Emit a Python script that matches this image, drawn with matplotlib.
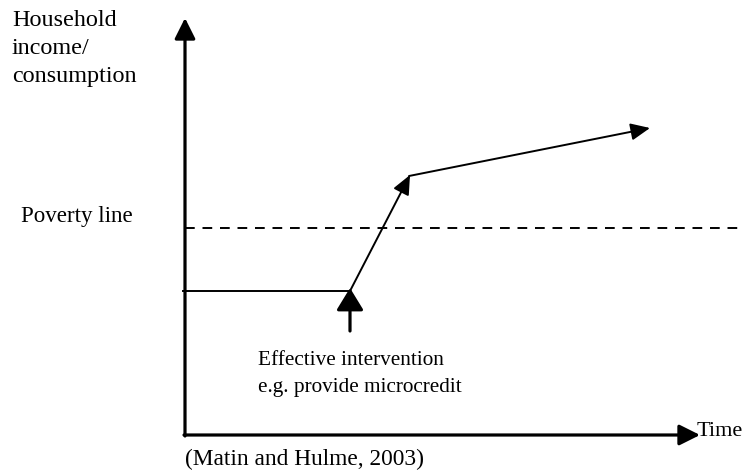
import numpy as np
import matplotlib
matplotlib.use("Agg")
from matplotlib import pyplot as plt

# household income path (x = time, y = income), origin at the axes corner
time_pts = [-2, 165, 225, 465]
income_pts = [144, 144, 260, 307]
poverty_line = 207
intervention_time = 165
x_axis_len = 515
y_axis_len = 417

y_label_lines = ["Household", "income/", "consumption"]
note_lines = ["Effective intervention", "e.g. provide microcredit"]

plt.rcParams["font.family"] = ["Liberation Serif", "DejaVu Serif"]

fig = plt.figure(figsize=(7.48, 4.74), dpi=100)
ax = fig.add_axes([0, 0, 1, 1])
# map data so that origin sits at pixel (185, 435)
ax.set_xlim(-185, 748 - 185)
ax.set_ylim(435 - 474, 435)
ax.axis("off")

axis_kw = dict(arrowstyle="-|>,head_length=0.9,head_width=0.45", color="black",
               lw=2.3, mutation_scale=14, shrinkA=0, shrinkB=0)
ax.annotate("", xy=(0, y_axis_len), xytext=(0, -1), arrowprops=axis_kw)
ax.annotate("", xy=(x_axis_len, 0), xytext=(-1, 0), arrowprops=axis_kw)

# poverty line
ax.plot([0, 555], [poverty_line, poverty_line], color="black", lw=1.4,
        ls=(0, (5, 4)))

# income path
ax.plot(time_pts[:2], income_pts[:2], color="black", lw=1.4)
seg_kw = dict(arrowstyle="-|>,head_length=0.9,head_width=0.4", color="black",
              lw=1.4, mutation_scale=13, shrinkA=0, shrinkB=0)
ax.annotate("", xy=(time_pts[2], income_pts[2]), xytext=(time_pts[1], income_pts[1]),
            arrowprops=seg_kw)
ax.annotate("", xy=(time_pts[3], income_pts[3]), xytext=(time_pts[2] - 1, income_pts[2] - 1),
            arrowprops=seg_kw)

# intervention arrow
int_kw = dict(arrowstyle="-|>,head_length=0.9,head_width=0.55", color="black",
              lw=2.3, mutation_scale=15, shrinkA=0, shrinkB=0)
ax.annotate("", xy=(intervention_time, income_pts[1] + 3), xytext=(intervention_time, 104),
            arrowprops=int_kw)

for i, s in enumerate(y_label_lines):
    ax.text(-173, 435 - 26 - 28 * i, s, fontsize=17.4, va="baseline", ha="left")
ax.text(-164, 435 - 222, "Poverty line", fontsize=16.6, va="baseline", ha="left")
for i, s in enumerate(note_lines):
    ax.text(73, 435 - 365 - 27 * i, s, fontsize=15.3, va="baseline", ha="left")
ax.text(512, 435 - 436, "Time", fontsize=16, va="baseline", ha="left")
ax.text(0, 435 - 465, "(Matin and Hulme, 2003)", fontsize=16.8, va="baseline", ha="left")

plt.savefig("out.png", dpi=100)
